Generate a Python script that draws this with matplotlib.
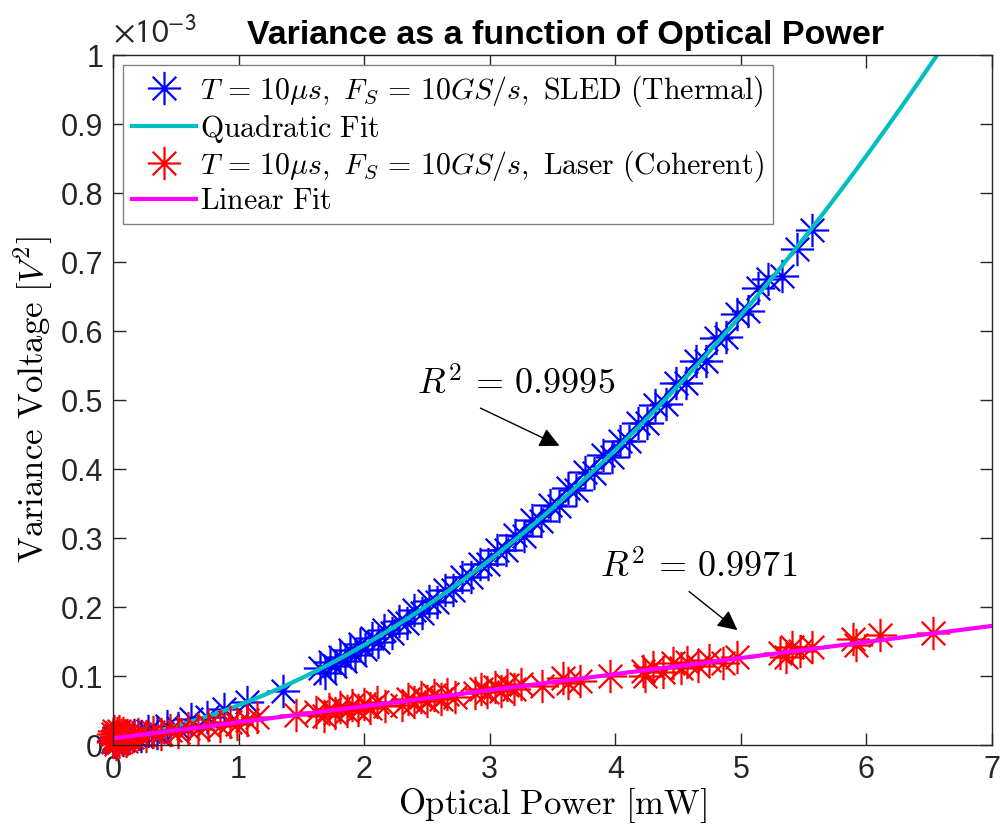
import numpy as np
import matplotlib.pyplot as plt
from matplotlib.path import Path
from matplotlib.lines import Line2D
from matplotlib.ticker import FuncFormatter

plt.rcParams['font.family'] = 'Liberation Sans'
plt.rcParams['mathtext.fontset'] = 'cm'

# SLED (thermal) measurements: optical power [mW], variance [1e-3 V^2]
sled_power = [0.00, 0.01, 0.02, 0.03, 0.04, 0.06, 0.08, 0.10, 0.13, 0.17,
              0.22, 0.28, 0.35, 0.43, 0.52, 0.62, 0.75, 0.88, 1.07, 1.35,
              1.65, 1.69, 1.73, 1.77, 1.81, 1.85, 1.89, 1.93, 1.97, 2.01,
              2.06, 2.11, 2.16, 2.22, 2.28, 2.34, 2.40, 2.46, 2.52, 2.58,
              2.64, 2.71, 2.78, 2.85, 2.92, 2.99, 3.06, 3.13, 3.20, 3.27,
              3.34, 3.41, 3.48, 3.55, 3.62, 3.69, 3.76, 3.83, 3.90, 3.97,
              4.04, 4.11, 4.18, 4.25, 4.32, 4.40, 4.48, 4.56, 4.64, 4.72,
              4.80, 4.88, 4.97, 5.06, 5.14, 5.22, 5.33, 5.45, 5.57]
sled_var = [0.006, 0.010, 0.004, 0.012, 0.008, 0.011, 0.007, 0.013, 0.010, 0.015,
            0.013, 0.020, 0.018, 0.027, 0.024, 0.037, 0.040, 0.052, 0.062, 0.079,
            0.112, 0.105, 0.121, 0.114, 0.128, 0.122, 0.137, 0.131, 0.146, 0.139,
            0.155, 0.150, 0.166, 0.162, 0.180, 0.177, 0.195, 0.192, 0.209, 0.207,
            0.225, 0.224, 0.243, 0.243, 0.263, 0.262, 0.283, 0.282, 0.304, 0.303,
            0.326, 0.325, 0.348, 0.347, 0.372, 0.370, 0.395, 0.394, 0.420, 0.418,
            0.441, 0.440, 0.467, 0.466, 0.493, 0.494, 0.525, 0.525, 0.556, 0.557,
            0.590, 0.591, 0.625, 0.629, 0.662, 0.676, 0.680, 0.719, 0.746]

# Laser (coherent) measurements
laser_power = [0.00, 0.00, 0.01, 0.01, 0.02, 0.02, 0.03, 0.03, 0.04, 0.05,
               0.05, 0.06, 0.07, 0.08, 0.09, 0.10, 0.11, 0.12,
               0.15, 0.20, 0.26, 0.32, 0.38, 0.45, 0.52, 0.60, 0.68, 0.76,
               0.85, 0.93, 0.99, 1.07, 1.15, 1.46,
               1.62, 1.68, 1.72, 1.77, 1.81, 1.86, 1.90, 1.95, 2.00, 2.05, 2.10, 2.17,
               2.30, 2.35, 2.40, 2.45, 2.50, 2.56, 2.61, 2.66, 2.72,
               2.88, 2.93, 2.98, 3.04, 3.09, 3.14, 3.19, 3.25,
               3.42, 3.58, 3.62, 3.72, 3.96, 4.22, 4.24, 4.30, 4.38, 4.46,
               4.52, 4.57, 4.66, 4.75, 4.86, 4.97, 5.31, 5.36, 5.41, 5.47,
               5.57, 5.89, 5.92, 6.11, 6.53]
laser_var = [0.004, 0.016, 0.009, 0.021, 0.002, 0.013, 0.018, 0.007, 0.011, 0.020,
             0.005, 0.014, 0.009, 0.017, 0.012, 0.006, 0.015, 0.010,
             0.012, 0.016, 0.013, 0.019, 0.016, 0.022, 0.019, 0.025, 0.023, 0.029,
             0.027, 0.033, 0.030, 0.036, 0.040, 0.043,
             0.048, 0.042, 0.052, 0.046, 0.055, 0.049, 0.058, 0.051, 0.060, 0.054, 0.063, 0.057,
             0.058, 0.067, 0.062, 0.070, 0.064, 0.072, 0.067, 0.074, 0.069,
             0.075, 0.081, 0.077, 0.084, 0.079, 0.087, 0.081, 0.088,
             0.086, 0.097, 0.090, 0.093, 0.100, 0.107, 0.100, 0.113, 0.106, 0.119,
             0.112, 0.120, 0.115, 0.123, 0.119, 0.128, 0.133, 0.127, 0.142, 0.136,
             0.142, 0.153, 0.145, 0.160, 0.162]

sled_label = r'$T\,=\,10\mu s,\ F_S\,=\,10GS/s,\ \mathrm{SLED\ (Thermal)}$'
laser_label = r'$T\,=\,10\mu s,\ F_S\,=\,10GS/s,\ \mathrm{Laser\ (Coherent)}$'

# matlab style asterisk: + and x overlaid
star = Path([(-1, 0), (1, 0), (0, -1), (0, 1),
             (-0.707, -0.707), (0.707, 0.707), (-0.707, 0.707), (0.707, -0.707)],
            [Path.MOVETO, Path.LINETO] * 4)

cyan = (0, 0.75, 0.75)
magenta = (1, 0, 1)
axis_col = (0.15, 0.15, 0.15)

# fits
quad = np.polyfit(sled_power, sled_var, 2)
lin = np.polyfit(laser_power, laser_var, 1)
xf = np.linspace(0, 7, 400)

fig = plt.figure(figsize=(10, 8.34), dpi=100)
ax = fig.add_axes([0.113, 0.1067, 0.879, 0.8273])

ms = 24
mew = 1.6
ax.plot(sled_power, sled_var, linestyle='none', marker=star, ms=ms, mew=mew,
        color='b', mfc='none', clip_on=False)
ax.plot(xf, np.polyval(quad, xf), color=cyan, lw=3)
ax.plot(laser_power, laser_var, linestyle='none', marker=star, ms=ms, mew=mew,
        color='r', mfc='none', clip_on=False)
ax.plot(xf, np.polyval(lin, xf), color=magenta, lw=3)

ax.set_xlim(0, 7)
ax.set_ylim(0, 1)
ax.set_xticks(range(8))
ax.set_yticks(np.arange(0, 1.01, 0.1))
ax.yaxis.set_major_formatter(FuncFormatter(lambda v, p: f'{v:g}'))
ax.tick_params(direction='in', length=9, width=1, top=True, right=True,
               labelsize=22, color=axis_col, labelcolor=axis_col, pad=7)
for s in ax.spines.values():
    s.set_color(axis_col)
    s.set_linewidth(1)

ax.set_xlabel(r'$\mathrm{Optical\ Power\ [mW]}$', fontsize=25, labelpad=1)
ax.set_ylabel(r'$\mathrm{Variance\ Voltage\ }[V^2]$', fontsize=25, labelpad=4)
ax.set_title('Variance as a function of Optical Power', fontsize=24.5,
             fontweight='bold', pad=8, x=0.515)
ax.text(0.0, 1.008, r'$\times\mathrm{10}^{\mathrm{-3}}$', transform=ax.transAxes,
        fontsize=24, color=axis_col, math_fontfamily='stixsans',
        ha='left', va='bottom')

# R^2 labels with arrows
ax.annotate('', xy=(3.575, 0.432), xytext=(2.906, 0.490),
            arrowprops=dict(arrowstyle='-|>', color='k', lw=1, mutation_scale=30))
ax.text(2.42, 0.507, r'$R^2\,=\,0.9995$', fontsize=26)
ax.annotate('', xy=(4.99, 0.164), xytext=(4.57, 0.225),
            arrowprops=dict(arrowstyle='-|>', color='k', lw=1, mutation_scale=30))
ax.text(3.88, 0.243, r'$R^2\,=\,0.9971$', fontsize=26)

handles = [
    Line2D([], [], linestyle='none', marker=star, ms=ms, mew=mew, color='b', mfc='none'),
    Line2D([], [], color=cyan, lw=3),
    Line2D([], [], linestyle='none', marker=star, ms=ms, mew=mew, color='r', mfc='none'),
    Line2D([], [], color=magenta, lw=3),
]
labels = [sled_label, r'$\mathrm{Quadratic\ Fit}$', laser_label, r'$\mathrm{Linear\ Fit}$']
leg = ax.legend(handles, labels, loc='upper left', bbox_to_anchor=(0.011, 0.986),
                fontsize=21.5, frameon=True, fancybox=False, framealpha=1,
                edgecolor=(0.5, 0.5, 0.5), handlelength=2.15, handletextpad=0.15,
                labelspacing=0.12, borderpad=0.3, borderaxespad=0)
leg.get_frame().set_linewidth(1)

fig.savefig('out.png', dpi=100)
